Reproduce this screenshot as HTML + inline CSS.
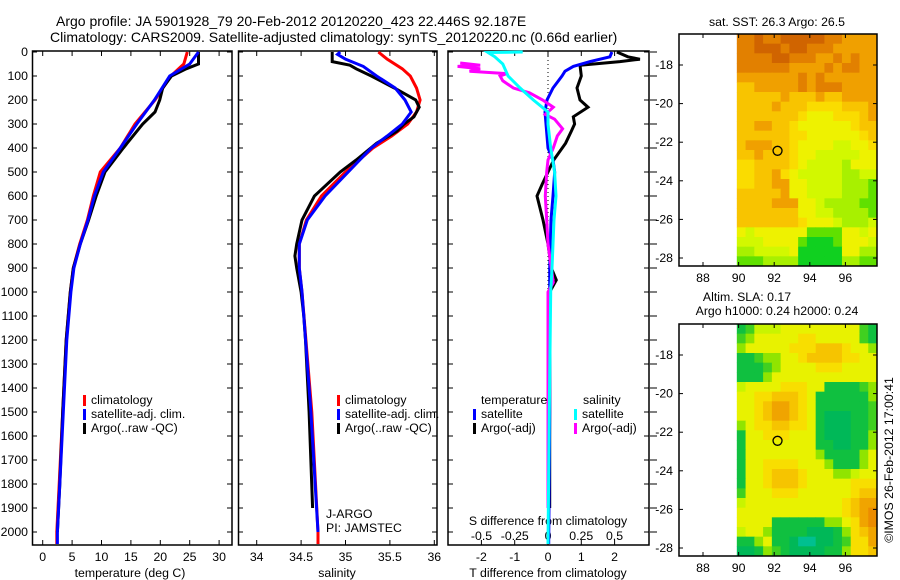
<!DOCTYPE html>
<html><head><meta charset="utf-8">
<style>
body{margin:0;background:#fff;}
svg{display:block;font-family:"Liberation Sans",sans-serif;}
text{font-size:12.3px;fill:#000;}
</style></head>
<body>
<svg id="c" width="900" height="580" viewBox="0 0 900 580" xmlns="http://www.w3.org/2000/svg">
<text x="56" y="26" style="font-size:14px">Argo profile: JA 5901928_79 20-Feb-2012 20120220_423 22.446S 92.187E</text>
<text x="50" y="42" style="font-size:14px">Climatology: CARS2009. Satellite-adjusted climatology: synTS_20120220.nc (0.66d earlier)</text>
<g id="g"></g>
</svg>
<script>
// ---------- data ----------
const pTicks=[0,100,200,300,400,500,600,700,800,900,1000,1100,1200,1300,1400,1500,1600,1700,1800,1900,2000];
const tTicks=[0,5,10,15,20,25,30];
const sTicks=[34,34.5,35,35.5,36];
const dtTicks=[-2,-1,0,1,2];
const dsTicks=[-0.5,-0.25,0,0.25,0.5];
const tempP=[0,50,70,100,150,200,250,300,400,500,600,700,800,900,1000,1200,1500,1800,2000];
const tempArgo=[26.5,26.5,24.4,21.9,20.4,19.9,19.1,17.0,13.7,10.6,9.1,7.8,6.4,5.2,4.7,4.0,3.4,2.9,2.5];
const climP=[0,50,100,200,300,400,500,600,700,800,900,1000,1200,1500,1800,2000,2050];
const tempClim=[24.6,24.0,21.8,19.1,15.7,13.2,9.8,8.6,7.6,6.3,5.2,4.7,4.0,3.4,2.8,2.4,2.4];
const tempSat=[26.5,25.0,21.6,19.0,16.0,13.2,10.3,8.8,7.7,6.4,5.3,4.8,4.1,3.5,2.9,2.5,2.5];
const salP=[0,40,55,70,100,150,200,230,270,300,330,380,450,500,600,700,800,850,900,1000,1100,1200,1500,1900];
const salArgo=[34.85,34.85,35.05,35.12,35.29,35.55,35.79,35.83,35.77,35.66,35.58,35.35,35.12,34.94,34.65,34.51,34.45,34.43,34.45,34.5,34.53,34.55,34.59,34.63];
const salClimP=[0,30,70,100,150,200,250,300,350,400,500,600,700,800,900,1000,1500,2000,2050];
const salClim=[35.37,35.47,35.64,35.73,35.8,35.84,35.8,35.7,35.52,35.31,35.0,34.73,34.56,34.48,34.48,34.51,34.62,34.69,34.69];
const salSatP=[0,10,30,60,100,150,200,250,300,350,400,500,600,700,800,900,1000,1500,2000];
const salSat=[34.94,34.91,35.0,35.2,35.35,35.56,35.67,35.74,35.64,35.47,35.29,35.03,34.77,34.57,34.48,34.48,34.51,34.61,34.69];
const dP=[0,20,30,40,55,100,150,200,230,270,300,330,380,450,500,550,600,650,700,800,900,950,1000,1500,1900];
const dTArgo=[2.07,2.4,2.76,2.16,0.96,1.0,0.87,0.96,1.2,0.76,0.8,0.7,0.53,0.17,0.0,-0.17,-0.33,-0.24,-0.15,0.0,0.1,0.25,0.05,0.05,0.05];
const dTSatP=[0,20,40,60,80,100,150,200,250,300,400,450,500,600,700,900,1000,1500,2050];
const dTSat=[1.92,1.86,1.26,0.76,0.51,0.42,0.15,-0.03,-0.09,-0.06,0.0,0.15,0.2,0.15,0.09,0.05,0.05,0.05,0.02];
const dSArgoP=[46,55,60,70,80,90,100,120,150,170,200,230,260,280,320,350,400,450,500,600,700,800,960,1000,1500,1900];
const dSArgo=[-0.66,-0.51,-0.68,-0.51,-0.59,-0.31,-0.36,-0.34,-0.26,-0.14,-0.04,0.04,-0.02,0.05,0.11,0.07,0.04,0.0,-0.01,-0.02,-0.01,0.0,0.04,0.0,0.0,0.0];
const dSSatP=[0,2,20,50,100,150,200,250,300,400,500,600,700,900,1000,1500,2050];
const dSSat=[-0.19,-0.45,-0.4,-0.34,-0.3,-0.21,-0.11,0.0,0.0,0.02,0.05,0.06,0.045,0.03,0.02,0.01,0.0];
const lonTicks=[88,90,92,94,96];
const latTicks=[-18,-20,-22,-24,-26,-28];
const argoLon=92.187, argoLat=-22.446;
const sstRows=["1101100000112222","1100010011122222","1111001112212122","1111112222121122","2222222121222222","3322222121112222","3333323332332222","3333233344443332","3333333455544432","3322334555555433","3333334455555543","3222334555566554","3323334556666655","4433334566667555","4433245666667766","4433225566667778","3333325566667778","3333222556777788","3333333556677778","3333333455567776","5655555588885565","6665555899985556","7766665999995577","8887777999997788"];
const slaRows=["8755544444444478","7644444334444478","6444443332223446","8876644322223344","8887644443334444","8886444444444444","5444433344888876","4433222348888886","4432112348888887","4432112348999887","6433223348999887","8443334448999886","8444444448899886","8444444446888864","8443333444688864","8443222344466544","8443222344444333","7444333444444322","5444444444443211","4444444444443210","4444888888664310","5446888899986321","8864889aa9987331","9986789999886332"];
const sstPal={"0":"#d06400","1":"#e28000","2":"#f0a000","3":"#f8c400","4":"#fadc00","5":"#eef200","6":"#d2f800","7":"#a8f000","8":"#60e000","9":"#10d020"};
const slaPal={"0":"#ec8c00","1":"#f0a400","2":"#f6c400","3":"#f8de00","4":"#e8f200","5":"#c8f400","6":"#90e400","7":"#40d020","8":"#10c040","9":"#00b858","a":"#00c090","b":"#00e0c0"};

// ---------- helpers ----------
const NS="http://www.w3.org/2000/svg";
const G=document.getElementById('g');
function mk(tag,attrs,parent){const e=document.createElementNS(NS,tag);for(const k in attrs)e.setAttribute(k,attrs[k]);(parent||G).appendChild(e);return e;}
function txt(x,y,s,anchor,name,size){const t=mk('text',{x:x,y:y,'text-anchor':anchor||'start'});t.textContent=s;if(size)t.style.fontSize=size+'px';


return t;}
const yP=p=>52+p*0.24;
const PB=545;
const xT=v=>42.7+v*5.88;
const xS=v=>345.5+(v-35)*88.8;
const xDT=v=>548+v*33.3;
const xDS=v=>548+v*133;
function frame(x0,x1,name){const r=mk('rect',{x:x0,y:51,width:x1-x0,height:PB-51,fill:'none',stroke:'#000','stroke-width':1.5});

}
function line(xs,ps,fx,color,name){const d=xs.map((v,i)=>(i?'L':'M')+fx(v).toFixed(1)+' '+yP(ps[i]).toFixed(1)).join(' ');
const l=mk('path',{d:d,fill:'none',stroke:color,'stroke-width':3,'stroke-linejoin':'miter'});

}
function legendEntry(x,y,color,label,name){mk('rect',{x:x,y:y-9,width:3,height:11,fill:color});txt(x+8,y,label,'start',name);}

// ---------- panels ----------
frame(32.5,232,'temperature-panel');frame(238.5,437,'salinity-panel');frame(448,649,'difference-panel');
pTicks.forEach(p=>{const y=yP(p);txt(28,y+4,String(p),'end','y-tick-label');
[[32.5,37],[232,227],[238.5,243],[437,432],[448,453],[649,644]].forEach(a=>mk('line',{x1:a[0],y1:y,x2:a[1],y2:y,stroke:'#000'}));
mk('line',{x1:650,y1:y,x2:657,y2:y,stroke:'#000'});});
tTicks.forEach(v=>{const x=xT(v);mk('line',{x1:x,y1:PB,x2:x,y2:PB-5,stroke:'#000'});mk('line',{x1:x,y1:51,x2:x,y2:56,stroke:'#000'});txt(x,561,String(v),'middle','temperature-tick-label');});
sTicks.forEach(v=>{const x=xS(v);mk('line',{x1:x,y1:PB,x2:x,y2:PB-5,stroke:'#000'});mk('line',{x1:x,y1:51,x2:x,y2:56,stroke:'#000'});txt(x,561,String(v),'middle','salinity-tick-label');});
dtTicks.forEach(v=>{const x=xDT(v);mk('line',{x1:x,y1:PB,x2:x,y2:PB-5,stroke:'#000'});mk('line',{x1:x,y1:51,x2:x,y2:56,stroke:'#000'});txt(x,561,String(v),'middle','t-diff-tick-label');});
dsTicks.forEach(v=>{txt(xDS(v),540,String(v),'middle','s-diff-tick-label');});
txt(130,577,'temperature (deg C)','middle','x-axis-title-temperature');
txt(337,577,'salinity','middle','x-axis-title-salinity');
txt(548,577,'T difference from climatology','middle','x-axis-title-t-diff');
txt(548,525,'S difference from climatology','middle','x-axis-title-s-diff');
mk('line',{x1:548,y1:52,x2:548,y2:PB,stroke:'#000','stroke-dasharray':'1 3'});

line(tempClim,climP,xT,'#ff0000','temperature-climatology-line');
line(tempArgo,tempP,xT,'#000000','temperature-argo-line');
line(tempSat,climP,xT,'#0000ff','temperature-satellite-line');
line(salClim,salClimP,xS,'#ff0000','salinity-climatology-line');
line(salArgo,salP,xS,'#000000','salinity-argo-line');
line(salSat,salSatP,xS,'#0000ff','salinity-satellite-line');
line(dTArgo,dP,xDT,'#000000','t-diff-argo-line');
line(dTSat,dTSatP,xDT,'#0000ff','t-diff-satellite-line');
line(dSArgo,dSArgoP,xDS,'#ff00ff','s-diff-argo-line');
line(dSSat,dSSatP,xDS,'#00ffff','s-diff-satellite-line');

legendEntry(83,404,'#ff0000','climatology','legend-climatology');
legendEntry(83,418,'#0000ff','satellite-adj. clim.','legend-satellite-adj');
legendEntry(83,432,'#000000','Argo(..raw -QC)','legend-argo');
legendEntry(337,404,'#ff0000','climatology','legend-climatology-2');
legendEntry(337,418,'#0000ff','satellite-adj. clim.','legend-satellite-adj-2');
legendEntry(337,432,'#000000','Argo(..raw -QC)','legend-argo-2');
txt(481,404,'temperature','start','legend-temperature-heading');
txt(583,404,'salinity','start','legend-salinity-heading');
legendEntry(473,418,'#0000ff','satellite','legend-t-satellite');
legendEntry(473,432,'#000000','Argo(-adj)','legend-t-argo');
legendEntry(574,418,'#00ffff','satellite','legend-s-satellite');
legendEntry(574,432,'#ff00ff','Argo(-adj)','legend-s-argo');
txt(326,518,'J-ARGO','start','float-program-label');
txt(326,532,'PI: JAMSTEC','start','float-pi-label');

// ---------- maps ----------
function map(top,rows,pal,name){
  const L=679,R=877,B=top+232;
  const xL=lon=>703+(lon-88)*17.8;
  const yL=lat=>top+31+(-18-lat)*19.3;
  const g=mk('g',{});
  
  
  const x0=xL(89.9),cw=(R-x0)/16,rh=232/rows.length;
  rows.forEach((row,ri)=>{[...row].forEach((c,ci)=>{
    const cell=mk('rect',{x:(x0+ci*cw).toFixed(2),y:(top+ri*rh).toFixed(2),width:(cw+0.4).toFixed(2),height:(rh+0.4).toFixed(2),fill:pal[c]},g);
    
    
  });});
  mk('rect',{x:L,y:top,width:R-L,height:232,fill:'none',stroke:'#000','stroke-width':1.5});
  lonTicks.forEach(v=>{const x=xL(v);mk('line',{x1:x,y1:B,x2:x,y2:B-4,stroke:'#000'});mk('line',{x1:x,y1:top,x2:x,y2:top+4,stroke:'#000'});txt(x,B+16,String(v),'middle','lon-tick-label');});
  latTicks.forEach(v=>{const y=yL(v);mk('line',{x1:L,y1:y,x2:L+4,y2:y,stroke:'#000'});mk('line',{x1:R,y1:y,x2:R-4,y2:y,stroke:'#000'});txt(L-6,y+4,String(v),'end','lat-tick-label');});
  const c=mk('circle',{cx:xL(argoLon),cy:yL(argoLat),r:4.5,fill:'none',stroke:'#000','stroke-width':1.3});
  
  
}
map(34,sstRows,sstPal,'sst-map');
map(324,slaRows,slaPal,'sla-map');
txt(777,26,'sat. SST: 26.3 Argo: 26.5','middle','sst-map-title');
txt(747,301,'Altim. SLA: 0.17','middle','sla-map-title');
txt(777,315,'Argo h1000: 0.24 h2000: 0.24','middle','sla-map-subtitle');
const cr=txt(0,0,'©IMOS 26-Feb-2012 17:00:41','middle','copyright-label');
cr.setAttribute('transform','translate(893,460) rotate(-90)');
</script>
</body></html>
